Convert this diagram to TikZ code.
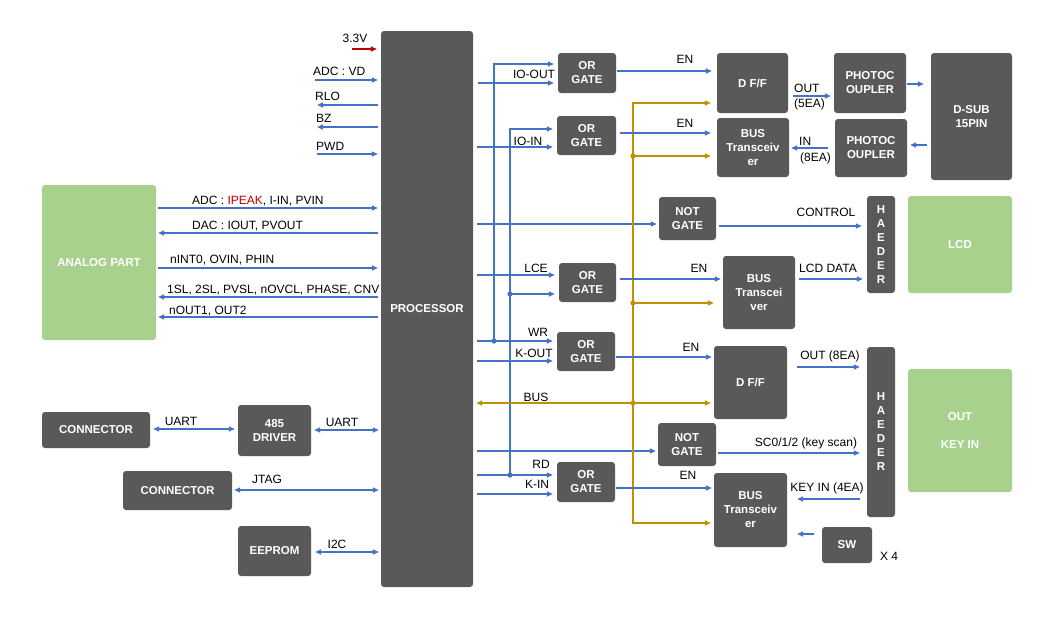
\documentclass[tikz,border=0pt]{standalone}
\usepackage{fontspec}
\setmainfont{Liberation Sans}
\usetikzlibrary{arrows.meta}
\definecolor{boxgray}{HTML}{595959}
\definecolor{lgreen}{HTML}{A9D18E}
\definecolor{lblue}{HTML}{4472C4}
\definecolor{gold}{HTML}{BF9000}
\definecolor{dred}{HTML}{C00000}
\begin{document}
\begin{tikzpicture}[x=1pt,y=-1pt,
  >={Triangle[length=6pt,width=5pt]},
  dbox/.style={fill=boxgray, rounded corners=3pt, text=white, font=\fontsize{11.5}{14}\selectfont\bfseries, align=center, inner sep=0pt},
  gbox/.style={dbox, fill=lgreen},
  bl/.style={draw=lblue, line width=2pt},
  ba/.style={bl, ->},
  bb/.style={bl, <->},
  gl/.style={draw=gold, line width=2pt},
  ga/.style={gl, ->},
  lbl/.style={font=\fontsize{12}{14}\selectfont, inner sep=0pt, text height=8.6pt, text depth=0pt},
]
\fill[white] (0,0) rectangle (1052,616);
\useasboundingbox (0,0) rectangle (1052,616);

% ---------- boxes ----------
\node[dbox, minimum width=92pt, minimum height=556pt] (proc) at (427,309) {PROCESSOR};
\node[gbox, minimum width=114pt, minimum height=155pt] (analog) at (99,262.5) {ANALOG PART};
\node[dbox, minimum width=108pt, minimum height=36pt] (conn1) at (96,430) {CONNECTOR};
\node[dbox, minimum width=73pt, minimum height=51pt] (drv) at (274.5,430.5) {485\\DRIVER};
\node[dbox, minimum width=109pt, minimum height=39pt] (conn2) at (177.5,490.5) {CONNECTOR};
\node[dbox, minimum width=73pt, minimum height=50pt] (eeprom) at (274.5,551) {EEPROM};

\node[dbox, minimum width=58pt, minimum height=40pt] (or1) at (587,73) {OR\\GATE};
\node[dbox, minimum width=59pt, minimum height=39pt] (or2) at (586.5,135.5) {OR\\GATE};
\node[dbox, minimum width=57pt, minimum height=39pt] (or3) at (587.5,282.5) {OR\\GATE};
\node[dbox, minimum width=58pt, minimum height=39pt] (or4) at (586,351.5) {OR\\GATE};
\node[dbox, minimum width=58pt, minimum height=40pt] (or5) at (586,482) {OR\\GATE};
\node[dbox, minimum width=57pt, minimum height=43pt] (not1) at (687.5,218.5) {NOT\\GATE};
\node[dbox, minimum width=58pt, minimum height=43pt] (not2) at (687,444.5) {NOT\\GATE};

\node[dbox, minimum width=71pt, minimum height=60pt] (dff1) at (752.5,83) {D F/F};
\node[dbox, minimum width=72pt, minimum height=59pt] (bust1) at (753,147.5) {BUS\\Transceiv\\er};
\node[dbox, minimum width=72pt, minimum height=60pt] (phot1) at (870,83) {PHOTOC\\OUPLER};
\node[dbox, minimum width=72pt, minimum height=58pt] (phot2) at (871,148) {PHOTOC\\OUPLER};
\node[dbox, minimum width=81pt, minimum height=127pt] (dsub) at (971.5,116.5) {D-SUB\\15PIN};

\node[dbox, minimum width=28pt, minimum height=97pt] (hdr1) at (881,244.5) {H\\A\\E\\D\\E\\R};
\node[gbox, minimum width=104pt, minimum height=97pt] (lcd) at (960,244.5) {LCD};
\node[dbox, minimum width=72pt, minimum height=73pt] (bust2) at (759,292.5) {BUS\\Transcei\\ver};

\node[dbox, minimum width=73pt, minimum height=73pt] (dff2) at (750.5,382.5) {D F/F};
\node[dbox, minimum width=28pt, minimum height=170pt] (hdr2) at (881,432) {H\\A\\E\\D\\E\\R};
\node[gbox, minimum width=104pt, minimum height=123pt] (outkey) at (960,430.5) {OUT\\[14pt]KEY IN};
\node[dbox, minimum width=73pt, minimum height=74pt] (bust3) at (750.5,510) {BUS\\Transceiv\\er};
\node[dbox, minimum width=50pt, minimum height=36pt] (sw) at (847,545) {SW};

% ---------- free ends and junctions ----------
\coordinate (v33) at (352,49);
\coordinate (vvd) at (315,80);
\coordinate (vrlo) at (317,105);
\coordinate (vbz) at (317,127);
\coordinate (vpwd) at (317,154);
\coordinate (jA) at (494,341);
\coordinate (jB) at (510,475);
\coordinate (gtop) at (633,103);
\coordinate (gbot) at (633,523);

% ---------- left of processor ----------
\draw[draw=dred, line width=2pt, ->, shorten >=4pt] (v33) -- (proc.west |- v33);
\draw[ba, shorten >=3pt] (vvd) -- (proc.west |- vvd);
\draw[ba, shorten <=3pt] (proc.west |- vrlo) -- (vrlo);
\draw[ba, shorten <=3pt] (proc.west |- vbz) -- (vbz);
\draw[ba, shorten >=3pt] (vpwd) -- (proc.west |- vpwd);
\node[lbl] (t33) at (355,38) {3.3V};
\node[lbl, anchor=west] (tvd) at (313,71) {ADC : VD};
\node[lbl, anchor=west] (trlo) at (315,96) {RLO};
\node[lbl, anchor=west] (tbz) at (316,118) {BZ};
\node[lbl, anchor=west] (tpwd) at (316,146) {PWD};

\draw[ba, shorten <=2pt, shorten >=3pt] (analog.east |- 0,208) -- (proc.west |- 0,208);
\draw[ba, shorten <=3pt, shorten >=2pt] (proc.west |- 0,233) -- (analog.east |- 0,233);
\draw[ba, shorten <=2pt, shorten >=3pt] (analog.east |- 0,268) -- (proc.west |- 0,268);
\draw[ba, shorten <=3pt, shorten >=2pt] (proc.west |- 0,297) -- (analog.east |- 0,297);
\draw[ba, shorten <=3pt, shorten >=2pt] (proc.west |- 0,317) -- (analog.east |- 0,317);
\node[lbl, anchor=west] (tadc) at (192,200) {ADC : \textcolor{dred}{IPEAK}, I-IN, PVIN};
\node[lbl, anchor=west] (tdac) at (192,225.5) {DAC : IOUT, PVOUT};
\node[lbl, anchor=west] (tnint) at (170,259) {nINT0, OVIN, PHIN};
\node[lbl, anchor=west] (tsl) at (167,289.5) {1SL, 2SL, PVSL, nOVCL, PHASE, CNV};
\node[lbl, anchor=west] (tnout) at (169,310) {nOUT1, OUT2};

\draw[bb, shorten <=3pt, shorten >=3pt] (conn1.east |- 0,429) -- (drv.west |- 0,429);
\draw[bb, shorten <=3pt, shorten >=2pt] (drv.east |- 0,430) -- (proc.west |- 0,430);
\draw[bb, shorten <=2pt, shorten >=2pt] (conn2.east |- 0,490) -- (proc.west |- 0,490);
\draw[bb, shorten <=4pt, shorten >=2pt] (eeprom.east |- 0,552) -- (proc.west |- 0,552);
\node[lbl] (tuart1) at (181,421) {UART};
\node[lbl] (tuart2) at (342,422) {UART};
\node[lbl] (tjtag) at (267,479) {JTAG};
\node[lbl] (ti2c) at (337,544) {I2C};

% ---------- right of processor: inputs ----------
\draw[ba, shorten >=4pt] (jA) |- (or1.west |- 0,64);
\draw[ba, shorten <=5pt, shorten >=4pt] (proc.east |- 0,83) -- (or1.west |- 0,83);
\draw[ba, shorten >=4pt] (jB) |- (or2.west |- 0,129);
\draw[ba, shorten <=4pt, shorten >=4pt] (proc.east |- 0,147) -- (or2.west |- 0,147);
\draw[ba, shorten <=4pt, shorten >=2pt] (proc.east |- 0,224) -- (not1.west |- 0,224);
\draw[ba, shorten <=4pt, shorten >=4pt] (proc.east |- 0,275) -- (or3.west |- 0,275);
\draw[ba, shorten >=4pt] (jB |- 0,294) -- (or3.west |- 0,294);
\draw[ba, shorten <=4pt, shorten >=4pt] (proc.east |- jA) -- (or4.west |- jA);
\draw[ba, shorten <=4pt, shorten >=4pt] (proc.east |- 0,361) -- (or4.west |- 0,361);
\draw[ba, shorten <=4pt, shorten >=2pt] (proc.east |- 0,451) -- (not2.west |- 0,451);
\draw[ba, shorten <=4pt, shorten >=4pt] (proc.east |- jB) -- (or5.west |- jB);
\draw[ba, shorten <=4pt, shorten >=4pt] (proc.east |- 0,494) -- (or5.west |- 0,494);
\fill[lblue] (jA) circle (2.6);
\fill[lblue] (jB) circle (2.6);
\fill[lblue] (jB |- 0,294) circle (2.6);
\node[lbl] (tioout) at (534,74) {IO-OUT};
\node[lbl] (tioin) at (528,141) {IO-IN};
\node[lbl] (tlce) at (536,268) {LCE};
\node[lbl] (twr) at (538,332) {WR};
\node[lbl] (tkout) at (534,353) {K-OUT};
\node[lbl] (trd) at (541,464) {RD};
\node[lbl] (tkin) at (537,484) {K-IN};

% ---------- gold bus ----------
\draw[gl, <->, shorten <=6pt, shorten >=3pt] (dff1.west |- gtop) -- (gtop) -- (gbot) -- (bust3.west |- gbot);
\draw[ga, shorten >=6pt] (gtop |- 0,156) -- (bust1.west |- 0,156);
\draw[ga, shorten >=9pt] (gtop |- 0,303) -- (bust2.west |- 0,303);
\draw[gl, <->, shorten <=3pt, shorten >=3pt] (proc.east |- 0,403) -- (dff2.west |- 0,403);
\fill[gold] (gtop |- 0,156) circle (2.6);
\fill[gold] (gtop |- 0,303) circle (2.6);
\fill[gold] (gtop |- 0,403) circle (2.6);
\node[lbl] (tbus) at (536,397) {BUS};

% ---------- outputs ----------
\draw[ba, shorten <=1pt, shorten >=5pt] (or1.east |- 0,71) -- (dff1.west |- 0,71);
\draw[ba, shorten <=4pt, shorten >=6pt] (or2.east |- 0,133) -- (bust1.west |- 0,133);
\draw[ba, shorten <=3pt, shorten >=5pt] (not1.east |- 0,226) -- (hdr1.west |- 0,226);
\draw[ba, shorten <=4pt, shorten >=2pt] (or3.east |- 0,279) -- (bust2.west |- 0,279);
\draw[ba, shorten <=4pt, shorten >=4pt] (bust2.east |- 0,279) -- (hdr1.west |- 0,279);
\draw[ba, shorten <=1pt, shorten >=2pt] (or4.east |- 0,357) -- (dff2.west |- 0,357);
\draw[ba, shorten <=10pt, shorten >=7pt] (dff2.east |- 0,367) -- (hdr2.west |- 0,367);
\draw[ba, shorten <=2pt, shorten >=7pt] (not2.east |- 0,453) -- (hdr2.west |- 0,453);
\draw[ba, shorten <=1pt, shorten >=2pt] (or5.east |- 0,488) -- (bust3.west |- 0,488);
\draw[ba, shorten <=7pt, shorten >=10pt] (hdr2.west |- 0,499) -- (bust3.east |- 0,499);
\draw[ba, shorten <=8pt, shorten >=10pt] (sw.west |- 0,534) -- (bust3.east |- 0,534);
\draw[ba, shorten <=5pt, shorten >=3pt] (dff1.east |- 0,96) -- (phot1.west |- 0,96);
\draw[ba, shorten <=1pt, shorten >=7pt] (phot1.east |- 0,84) -- (dsub.west |- 0,84);
\draw[ba, shorten <=4pt, shorten >=3pt] (dsub.west |- 0,145) -- (phot2.east |- 0,145);
\draw[ba, shorten <=7pt, shorten >=2pt] (phot2.west |- 0,148) -- (bust1.east |- 0,148);

\node[lbl] (ten1) at (685,59) {EN};
\node[lbl] (ten2) at (685,123) {EN};
\node[lbl] (ten3) at (699,268) {EN};
\node[lbl] (ten4) at (691,347) {EN};
\node[lbl] (ten5) at (688,475) {EN};
\node[lbl] (tctl) at (826,212) {CONTROL};
\node[lbl] (tlcdd) at (828,268) {LCD DATA};
\node[lbl] (tout8) at (830,355) {OUT (8EA)};
\node[lbl] (tscan) at (806,442) {SC0/1/2 (key scan)};
\node[lbl] (tkey4) at (827,487) {KEY IN (4EA)};
\node[lbl] (tx4) at (889,556) {X 4};
\node[lbl, anchor=west] (tout5a) at (794,88) {OUT};
\node[lbl, anchor=west] (tout5b) at (794,103) {(5EA)};
\node[lbl, anchor=west] (tin8a) at (799,141) {IN};
\node[lbl, anchor=west] (tin8b) at (800,157) {(8EA)};
\end{tikzpicture}
\end{document}
